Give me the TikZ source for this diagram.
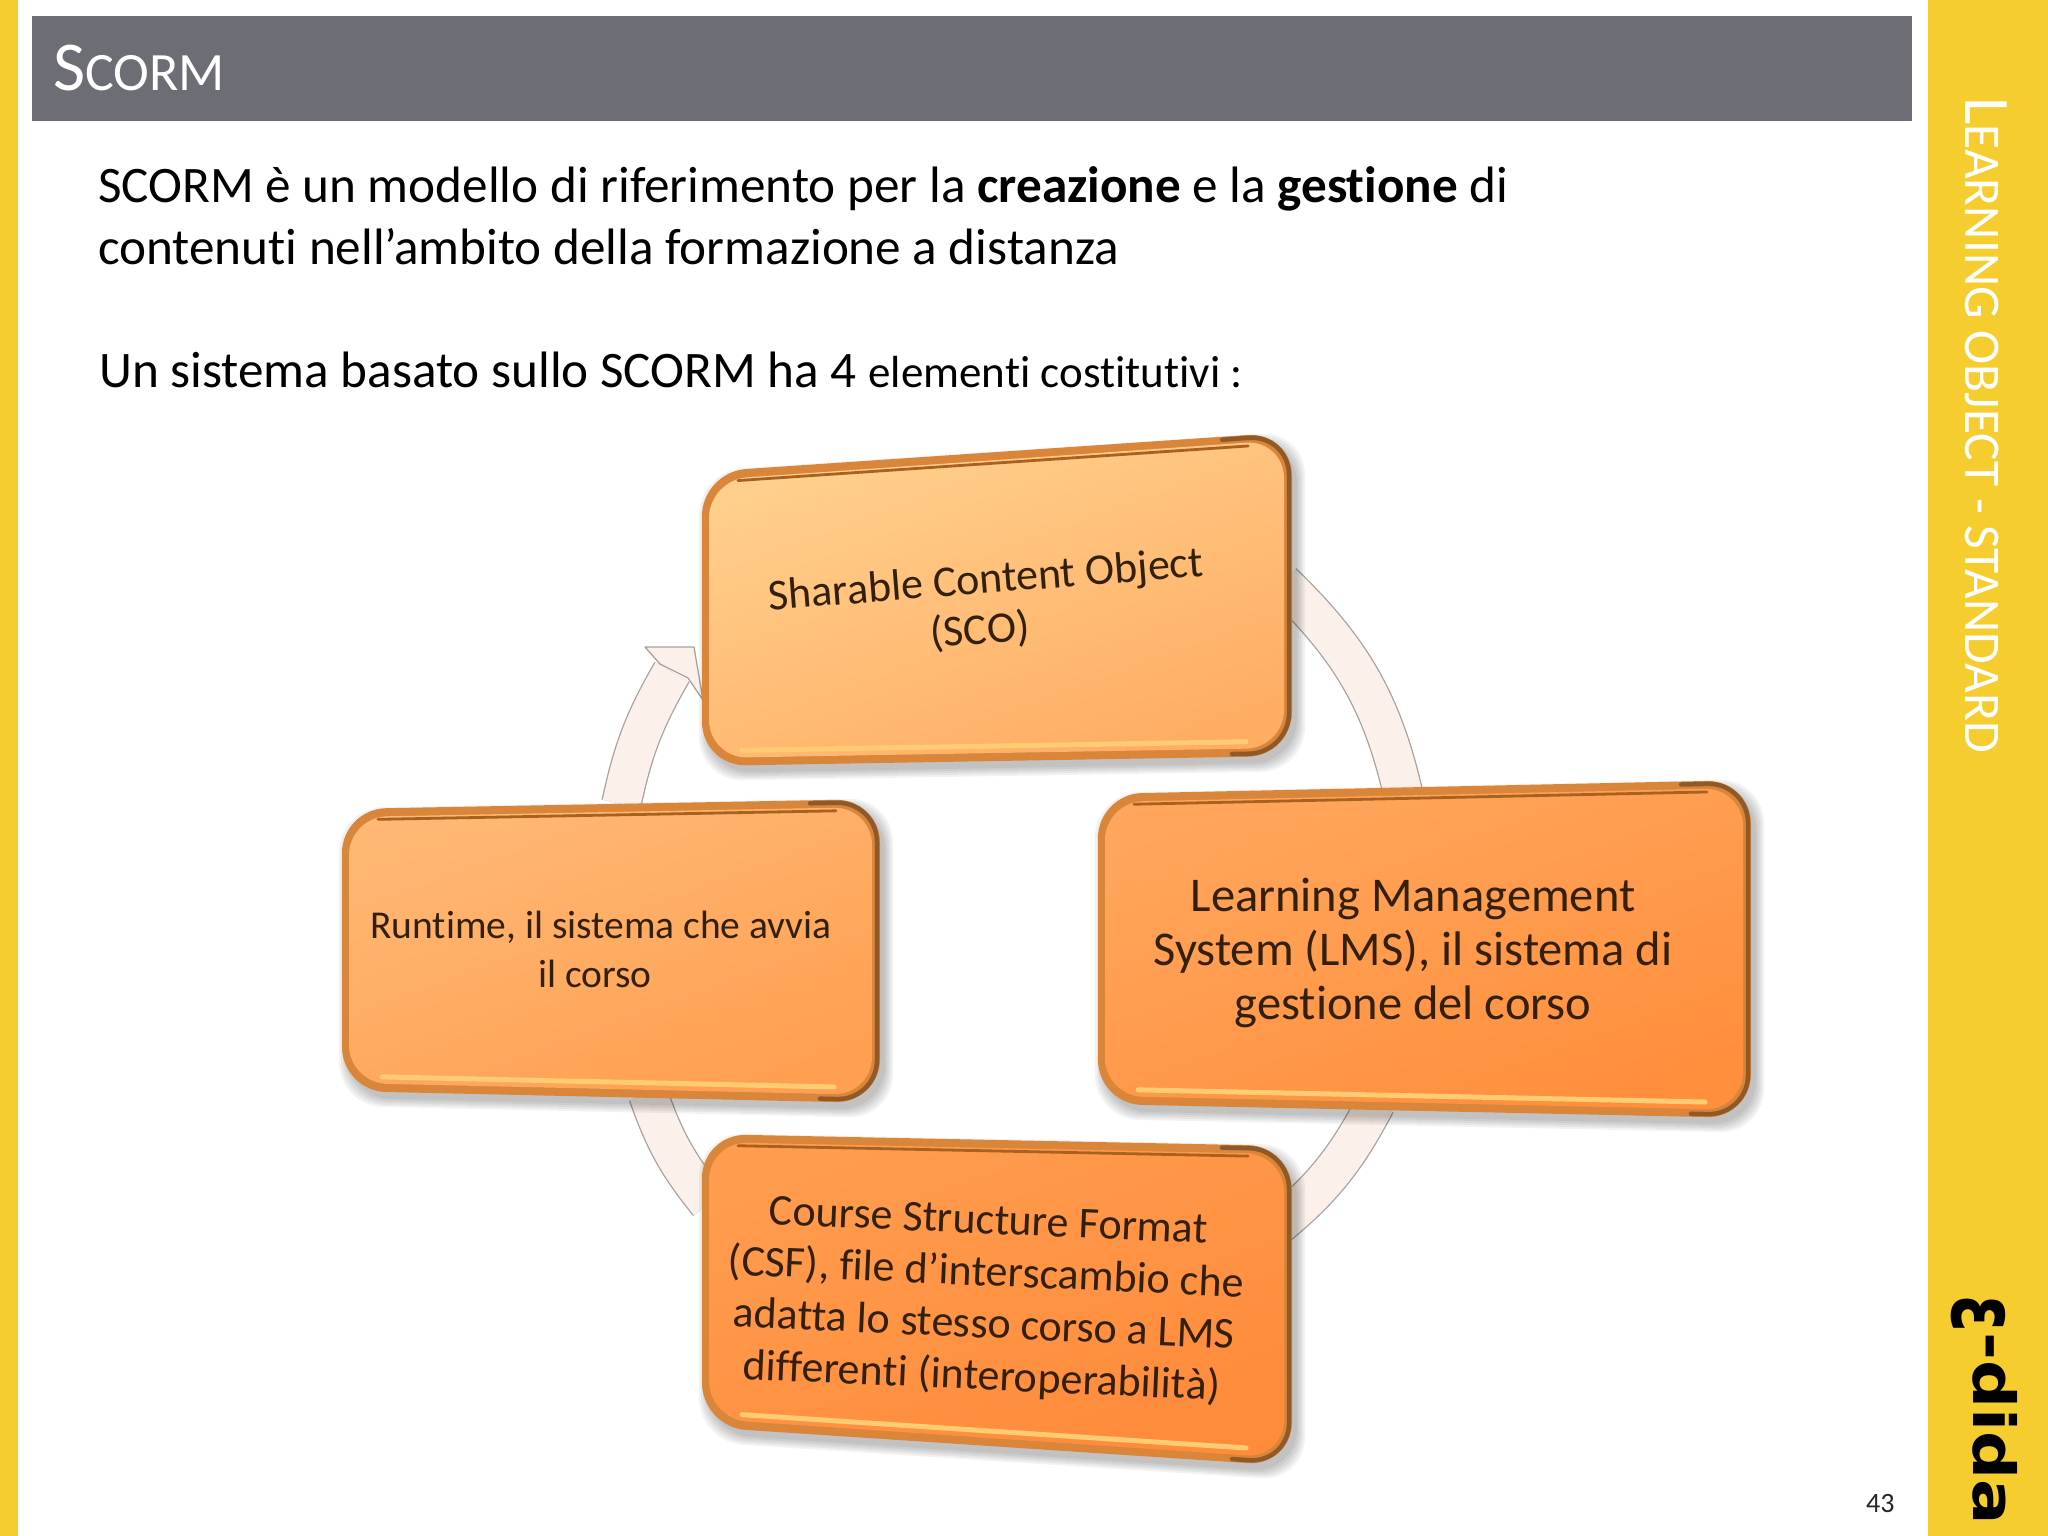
\documentclass[tikz,border=0pt]{standalone}
\usepackage{fontspec}
\usepackage{graphicx}
\setmainfont[Ligatures=NoCommon]{Carlito}
\newfontfamily\logofont{DejaVu Sans}
\usetikzlibrary{calc}
\definecolor{barcol}{HTML}{F6CD2F}
\definecolor{titlegray}{HTML}{6C6D75}
\definecolor{rimc}{HTML}{D9853A}
\definecolor{rimdark}{HTML}{8F5A28}
\definecolor{topline}{HTML}{A8611F}
\definecolor{lowlight}{HTML}{FFCB73}
\definecolor{inktext}{HTML}{33200C}
\definecolor{bandfill}{HTML}{FBF1EA}
\definecolor{bandline}{HTML}{A9A29C}
\pgfdeclarelayer{paper}
\pgfdeclarelayer{bandlayer}
\pgfdeclarelayer{panellayer}
\pgfsetlayers{paper,bandlayer,panellayer,main}
\newcommand{\fs}[2]{\fontsize{#1}{#2}\selectfont}
\newcommand{\qp}[4]{([shift={({#1},{-(#3)})}]tl) -- ([shift={({-(#2)},{-(#3)})}]tr) -- ([shift={({-(#2)},{#4})}]br) -- ([shift={({#1},{#4})}]bl) -- cycle}
\newcommand{\panel}[8]{%
  \definecolor{panelA}{HTML}{#7}\definecolor{panelB}{HTML}{#8}%
  \coordinate (tl) at (#1,-#3); \coordinate (tr) at (#2,-#4);
  \coordinate (br) at (#2,-#5); \coordinate (bl) at (#1,-#6);
  \foreach \g in {0,2,...,8}{
    \fill[black,opacity=.05,rounded corners=44pt] \qp{5-\g}{-5-\g}{7-\g}{-7-\g};
  }
  \fill[rimc,rounded corners=44pt] \qp{0}{0}{0}{0};
  \shade[rounded corners=38pt,top color=panelA,bottom color=panelB,shading angle=20] \qp{7}{8}{8}{8};
  \draw[topline,line width=2.8pt,line cap=round] ($(tl)!36pt!(tr)+(0,-11)$) -- ($(tr)!44pt!(tl)+(0,-11)$);
  \draw[lowlight,line width=5pt,line cap=round] ($(bl)!40pt!(br)+(0,15)$) -- ($(br)!46pt!(bl)+(0,15)$);
  \draw[rimdark,line width=4.5pt,rounded corners=40pt,line cap=round] ($(tr)!70pt!(tl)+(0,-3)$) -- ($(tr)+(-3,-3)$) -- ($(br)+(-3,3)$) -- ($(br)!60pt!(bl)+(0,3)$);
}
\tikzset{
  boxtext/.style={align=center,text=inktext,inner sep=0pt,minimum width=#1},
  band/.style={draw=bandline,line width=1.3pt,double=bandfill,double distance=38pt},
  bodytext/.style={anchor=base west,inner sep=0pt,text=black},
}
\begin{document}
\begin{tikzpicture}[x=1pt,y=1pt]
\useasboundingbox (0,0) rectangle (2048,-1536);
\begin{pgfonlayer}{paper}
\fill[white] (0,0) rectangle (2048,-1536);
\fill[barcol] (0,0) rectangle (18,-1536);
\fill[barcol] (1928,0) rectangle (2048,-1536);
\fill[titlegray] (32,-16) rectangle (1912,-121);
\end{pgfonlayer}

% title and body
\node[bodytext,text=white] (title) at (53,-91) {\fs{70}{80}S\fs{54}{60}CORM};
\node[bodytext] (l1) at (98,-202) {\fs{51.2}{60}SCORM è un modello di riferimento per la \textbf{creazione} e la \textbf{gestione} di};
\node[bodytext] (l2) at (98,-264) {\fs{51.2}{60}contenuti nell’ambito della formazione a distanza};
\node[bodytext] (l3) at (99,-387) {\fs{51.2}{60}Un sistema basato sullo SCORM ha 4 \fs{45}{60}elementi costitutivi :};

% side bar
\node[bodytext,text=white,rotate=-90] (side) at (1965,-97) {\fs{65}{70}L\fs{51.5}{60}EARNING OBJECT - STANDARD};
\node[bodytext,text=black,rotate=-90] (logo) at (1973,-1295) {\logofont\bfseries\raisebox{-21pt}{\scalebox{.7}[1]{\fs{95}{100}ε}}\scalebox{1.16}[1]{\fs{58}{70}-dida}};
\node[bodytext,text=black!85] (pageno) at (1866,-1512) {\fs{28}{30}43};

% box texts
\node[boxtext=590pt,minimum height=300pt,rotate=4.5,font=\fs{44}{50}] (sco) at (988,-606) {Sharable Content Object\\(SCO)\hspace*{20pt}};
\node[boxtext=590pt,minimum height=300pt,font=\fs{48.5}{54}] (lms) at (1413,-953) {Learning Management\\System (LMS), il sistema di\\gestione del corso};
\node[boxtext=500pt,minimum height=290pt,font=\fs{39.5}{49}] (run) at (601,-949) {Runtime, il sistema che avvia\\il corso\hspace*{12pt}};
\node[boxtext=560pt,minimum height=320pt,rotate=-2.5,font=\fs{44}{52}] (csf) at (985,-1301) {Course Structure Format\\(CSF), file d’interscambio che\\adatta lo stesso corso a LMS\\differenti (interoperabilità)};

% connectors
\begin{pgfonlayer}{bandlayer}
  \coordinate (headbase) at (672,-672);
  \draw[band] (sco.east) to[bend left=17] (lms.93);
  \draw[band] (lms.256) to[bend left=12] (csf.16);
  \draw[band] (csf.163) to[bend left=10] (run.288);
  \draw[band] (run.82) to[bend left=9] (headbase);
  \draw[draw=bandline,line width=1.3pt,fill=bandfill,line join=round]
    (645,-647) -- (694,-647) -- (703,-700) -- (688,-678) -- (660,-664) -- cycle;
\end{pgfonlayer}

% boxes
\begin{pgfonlayer}{panellayer}
  \panel{702}{1292}{472}{432}{756}{766}{FFD08D}{FFAD63}
  \panel{1098}{1751}{794}{780}{1118}{1104}{FFA65C}{FF8F3D}
  \panel{342}{880}{809}{799}{1103}{1091}{FFB873}{FF9F52}
  \panel{702}{1292}{1134}{1146}{1466}{1427}{FF9C4E}{FF8B3B}
\end{pgfonlayer}
\end{tikzpicture}
\end{document}
